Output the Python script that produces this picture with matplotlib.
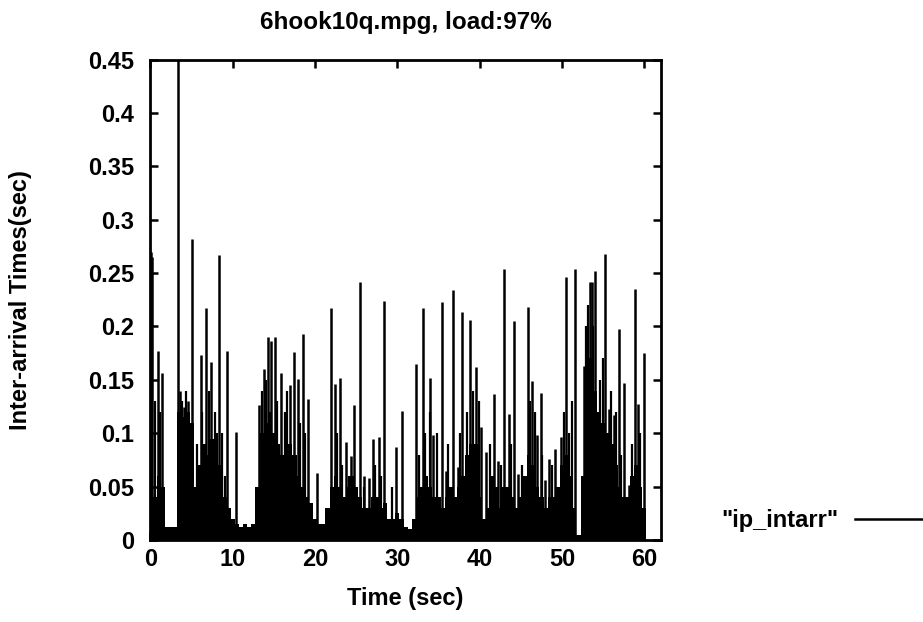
import matplotlib.pyplot as plt
from matplotlib.lines import Line2D

plt.rcParams['font.family'] = ['Liberation Sans', 'DejaVu Sans']
plt.rcParams['font.weight'] = 'bold'

# tall spikes (time in sec, inter-arrival in sec)
spike_t = [0.05, 0.2, 0.95, 1.45, 3.4, 3.6, 4.1, 4.6, 5.0, 6.1, 6.8, 7.4, 8.3, 9.3,
           10.4, 13.2, 13.8, 14.3, 14.6, 15.1, 15.9, 16.9, 17.4, 17.9, 18.5, 19.1,
           20.2, 21.9, 22.4, 23.0, 23.7, 24.4, 24.7, 25.4, 25.9, 26.5, 27.0, 27.8,
           28.4, 29.8, 30.5, 32.2, 33.1, 33.9, 34.3, 35.4, 35.9, 36.7, 37.3, 37.9,
           38.8, 39.6, 40.1, 40.8, 41.7, 42.2, 43.0, 43.5, 44.1, 44.6, 45.4, 45.9,
           46.4, 46.9, 47.4, 47.9, 48.4, 49.2, 49.9, 50.5, 51.6, 52.7, 53.4, 53.6,
           54.0, 54.3, 55.2, 55.7, 56.3, 56.9, 57.5, 58.1, 58.8, 59.2, 59.9]
spike_v = [0.27, 0.265, 0.177, 0.156, 0.46, 0.14, 0.125, 0.13, 0.282, 0.173, 0.217,
           0.167, 0.267, 0.177, 0.101, 0.126, 0.16, 0.19, 0.186, 0.19, 0.156, 0.145,
           0.176, 0.151, 0.193, 0.132, 0.063, 0.217, 0.146, 0.152, 0.092, 0.079,
           0.126, 0.242, 0.06, 0.058, 0.095, 0.096, 0.224, 0.087, 0.121, 0.165,
           0.217, 0.152, 0.098, 0.223, 0.065, 0.234, 0.068, 0.214, 0.206, 0.162,
           0.106, 0.082, 0.137, 0.074, 0.254, 0.118, 0.205, 0.062, 0.06, 0.218,
           0.149, 0.098, 0.138, 0.056, 0.076, 0.085, 0.096, 0.246, 0.254, 0.163,
           0.242, 0.242, 0.252, 0.11, 0.268, 0.123, 0.117, 0.198, 0.147, 0.051,
           0.235, 0.127, 0.175]

# medium spikes inside the dense part
mid_t = [0.6, 1.2, 3.8, 4.3, 5.7, 6.3, 7.1, 7.8, 8.7, 9.0, 13.5, 14.0, 15.4, 16.3,
         16.6, 18.2, 18.8, 22.7, 23.3, 24.1, 26.0, 27.3, 28.0, 29.4, 32.6, 33.4,
         34.0, 34.8, 36.2, 37.6, 38.4, 39.2, 39.9, 41.3, 42.6, 43.8, 45.1, 46.1,
         46.7, 47.6, 48.8, 50.2, 50.9, 51.2, 52.9, 53.2, 53.8, 54.6, 55.0, 55.9,
         56.6, 57.2, 58.5, 59.5]
mid_v = [0.13, 0.12, 0.13, 0.14, 0.09, 0.12, 0.14, 0.12, 0.1, 0.06, 0.14, 0.15, 0.13,
         0.12, 0.14, 0.11, 0.1, 0.1, 0.07, 0.06, 0.05, 0.07, 0.06, 0.05, 0.08, 0.1,
         0.12, 0.1, 0.09, 0.1, 0.12, 0.14, 0.13, 0.09, 0.07, 0.09, 0.07, 0.13, 0.12,
         0.08, 0.07, 0.12, 0.1, 0.13, 0.2, 0.22, 0.2, 0.15, 0.17, 0.14, 0.12, 0.08,
         0.09, 0.1]

# height of the solid black mass, read every half second
base_t = [0, 0.5, 1, 1.5, 2, 2.5, 3, 3.5, 4, 4.5, 5, 5.5, 6, 6.5, 7, 7.5, 8, 8.5,
          9, 9.5, 10, 10.5, 11, 11.5, 12, 12.5, 13, 13.5, 14, 14.5, 15, 15.5, 16,
          16.5, 17, 17.5, 18, 18.5, 19, 19.5, 20, 20.5, 21, 21.5, 22, 22.5, 23, 23.5,
          24, 24.5, 25, 25.5, 26, 26.5, 27, 27.5, 28, 28.5, 29, 29.5, 30, 30.5, 31,
          31.5, 32, 32.5, 33, 33.5, 34, 34.5, 35, 35.5, 36, 36.5, 37, 37.5, 38, 38.5,
          39, 39.5, 40, 40.5, 41, 41.5, 42, 42.5, 43, 43.5, 44, 44.5, 45, 45.5, 46,
          46.5, 47, 47.5, 48, 48.5, 49, 49.5, 50, 50.5, 51, 51.5, 52, 52.5, 53, 53.5,
          54, 54.5, 55, 55.5, 56, 56.5, 57, 57.5, 58, 58.5, 59, 59.5, 60, 60.5]
base_v = [0.05, 0.04, 0.06, 0.05, 0.012, 0.012, 0.012, 0.12, 0.115, 0.12, 0.11, 0.05,
          0.07, 0.09, 0.08, 0.095, 0.1, 0.07, 0.04, 0.03, 0.02, 0.015, 0.012, 0.015,
          0.012, 0.015, 0.05, 0.1, 0.11, 0.12, 0.1, 0.09, 0.08, 0.1, 0.09, 0.08, 0.06,
          0.05, 0.04, 0.035, 0.02, 0.015, 0.015, 0.03, 0.05, 0.06, 0.05, 0.04, 0.05,
          0.06, 0.05, 0.04, 0.03, 0.03, 0.04, 0.04, 0.03, 0.035, 0.02, 0.02, 0.025,
          0.02, 0.012, 0.01, 0.02, 0.04, 0.05, 0.06, 0.05, 0.04, 0.04, 0.03, 0.04,
          0.05, 0.04, 0.05, 0.06, 0.08, 0.09, 0.09, 0.04, 0.02, 0.03, 0.06, 0.05, 0.03,
          0.05, 0.05, 0.04, 0.03, 0.04, 0.06, 0.08, 0.07, 0.05, 0.04, 0.03, 0.04, 0.04,
          0.05, 0.07, 0.08, 0.06, 0.03, 0.005, 0.06, 0.13, 0.17, 0.14, 0.12, 0.11, 0.1,
          0.09, 0.07, 0.05, 0.04, 0.04, 0.06, 0.07, 0.05, 0.03, 0.0]

yticks = [0, 0.05, 0.1, 0.15, 0.2, 0.25, 0.3, 0.35, 0.4, 0.45]
ylabels = ['0', '0.05', '0.1', '0.15', '0.2', '0.25', '0.3', '0.35', '0.4', '0.45']
xticks = [0, 10, 20, 30, 40, 50, 60]

fig = plt.figure(figsize=(9.23, 6.22), dpi=100)
ax = fig.add_axes([0.163, 0.132, 0.553, 0.772])

ax.fill_between(base_t, base_v, 0, step='mid', color='black', lw=0)
ax.vlines(mid_t, 0, mid_v, color='black', lw=1.6)
ax.vlines(spike_t, 0, spike_v, color='black', lw=1.8)

ax.set_xlim(0, 62)
ax.set_ylim(0, 0.45)
ax.set_xticks(xticks)
ax.set_yticks(yticks)
ax.set_yticklabels(ylabels)
ax.tick_params(direction='in', top=True, right=True, length=6, width=1.8, labelsize=17)
ax.tick_params(axis='x', pad=6)
ax.tick_params(axis='y', pad=12)
for s in ax.spines.values():
    s.set_linewidth(2)

ax.set_title('6hook10q.mpg, load:97%', fontsize=17.5, fontweight='bold', pad=22)
ax.set_xlabel('Time (sec)', fontsize=17, fontweight='bold')
ax.xaxis.set_label_coords(0.5, -0.098)
ax.set_ylabel('Inter-arrival Times(sec)', fontsize=17, fontweight='bold')
ax.yaxis.set_label_coords(-0.232, 0.5)

handle = Line2D([], [], color='black', lw=1.8)
ax.legend([handle], ['"ip_intarr"'], loc='center left', bbox_to_anchor=(1.118, 0.04),
          frameon=False, markerfirst=False, handlelength=5, fontsize=17,
          borderaxespad=0, borderpad=0, handletextpad=0.7)

fig.savefig('out.png', dpi=100)
